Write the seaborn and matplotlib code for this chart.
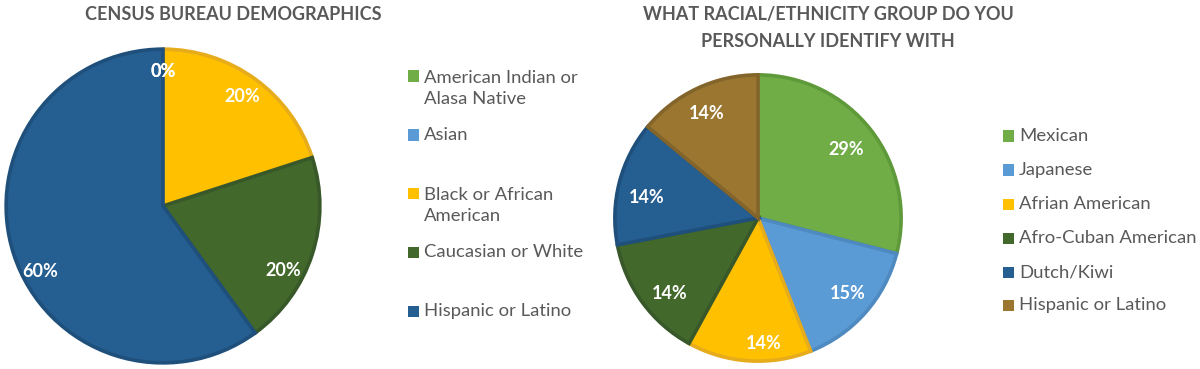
import matplotlib
matplotlib.use("Agg")
import matplotlib.pyplot as plt
import seaborn as sns
import numpy as np
from matplotlib.patches import Rectangle

# ---- data ----
left_title = "CENSUS BUREAU DEMOGRAPHICS"
left_labels = ["American Indian or\nAlasa Native", "Asian", "Black or African\nAmerican",
               "Caucasian or White", "Hispanic or Latino"]
left_values = [0, 0, 20, 20, 60]

right_title = "WHAT RACIAL/ETHNICITY GROUP DO YOU\nPERSONALLY IDENTIFY WITH"
right_labels = ["Mexican", "Japanese", "Afrian American", "Afro-Cuban American",
                "Dutch/Kiwi", "Hispanic or Latino"]
right_values = [29, 15, 14, 14, 14, 14]

# ---- style / layout ----
sns.set_theme(style="white")
plt.rcParams['font.family'] = ['Lato', 'DejaVu Sans']

left_colors = ["#70AD47", "#5B9BD5", "#FFC000", "#43682B", "#255E91"]
left_edges = ["#5F9A3A", "#4E89C0", "#E6AC1C", "#38582A", "#1F507C"]
right_colors = ["#70AD47", "#5B9BD5", "#FFC000", "#43682B", "#255E91", "#9A7630"]
right_edges = ["#5F9A3A", "#4E89C0", "#E6AC1C", "#38582A", "#1F507C", "#83642A"]

# label placement (Excel "best fit" style): radial distance and angle shift (deg)
left_lbl_dist = [0.86, 0.86, 0.86, 0.87, 0.89]
left_lbl_shift = [0, 0, 0, -10, 10]
right_lbl_dist = [0.78, 0.82, 0.88, 0.81, 0.79, 0.81]
right_lbl_shift = [0, 1.4, 6, 4.5, 4, 0.8]

W, H = 1200, 369
fig = plt.figure(figsize=(W / 100, H / 100), dpi=100)
fig.patch.set_facecolor("white")

TXT = "#595959"


def pie_axes(cx, cy_top, r):
    cy = H - cy_top
    return fig.add_axes([(cx - r) / W, (cy - r) / H, 2 * r / W, 2 * r / H])


def draw_pie(ax, values, colors, edges, dists, shifts):
    wedges, _ = ax.pie(
        values, colors=colors, startangle=90, counterclock=False, radius=1,
        wedgeprops=dict(linewidth=2.6, joinstyle="miter"))
    total = float(sum(values))
    for w, e in zip(wedges, edges):
        w.set_edgecolor(e)
    for w, v, d, s in zip(wedges, values, dists, shifts):
        mid = np.deg2rad((w.theta1 + w.theta2) / 2 + s)
        ax.text(d * np.cos(mid), d * np.sin(mid), f"{100 * v / total:.0f}%",
                ha="center", va="center", color="white", fontsize=13,
                fontweight="bold")
    ax.set_xlim(-1.02, 1.02)
    ax.set_ylim(-1.02, 1.02)
    ax.set_aspect("equal")
    ax.axis("off")
    return wedges


axL = pie_axes(163, 206, 160)
draw_pie(axL, left_values, left_colors, left_edges, left_lbl_dist, left_lbl_shift)

axR = pie_axes(758, 218, 146)
draw_pie(axR, right_values, right_colors, right_edges, right_lbl_dist, right_lbl_shift)


def legend(x_marker, x_text, ys, labels, colors):
    for y, lab, c in zip(ys, labels, colors):
        fig.patches.append(Rectangle((x_marker / W, (H - y - 5.5) / H), 11 / W, 11 / H,
                                     transform=fig.transFigure, facecolor=c,
                                     edgecolor="none"))
        nlines = lab.count("\n") + 1
        fig.text(x_text / W, (H - y - 12.5 * (nlines - 1)) / H, lab, ha="left",
                 va="center", fontsize=13.3, color=TXT, linespacing=1.4)


legend(408, 424, [76, 135, 193, 252, 311], left_labels, left_colors)
legend(1003, 1019, [136, 170, 204, 238, 272, 305], right_labels, right_colors)

fig.text(233 / W, (H - 15) / H, left_title, ha="center", va="center",
         fontsize=13, fontweight="bold", color=TXT)
fig.text(828 / W, (H - 28) / H, right_title, ha="center", va="center",
         fontsize=13, fontweight="bold", color=TXT, linespacing=1.75)

fig.savefig("out.png", dpi=100, facecolor="white")
